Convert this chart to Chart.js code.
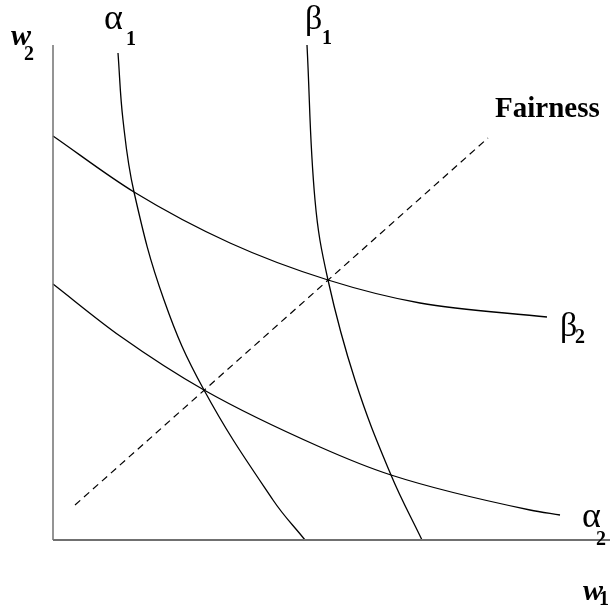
<!DOCTYPE html>
<html>
<head>
<meta charset="utf-8">
<script src="https://cdn.jsdelivr.net/npm/chart.js@4/dist/chart.umd.min.js"></script>
<style>
  html, body { margin: 0; padding: 0; background: #fff; }
  #chart { display: block; }
</style>
</head>
<body>
<canvas id="chart" width="610" height="610"></canvas>
<script>
// indifference curves (w1, w2 units)
const alpha1 = [[65,487],[70,420],[81,348],[111,240],[151,150],[220,40],[252,0]];
const beta1  = [[254,495],[262,340],[275,260],[302,160],[338,65],[369,0]];
const beta2  = [[0,404],[81,348],[177,297],[275,260],[367,237],[494,223]];
const alpha2 = [[0,256],[67,204],[151,150],[267,93],[338,65],[477,30],[507,25]];
const fairness = [[22,35],[435,402]];
const yAxisLine = [[0,0],[0,495]];
const xAxisLine = [[0,0],[557,0]];

// text labels: [main, sub, x, y, subX, subY, font, subFont]
const labels = [
  ['w', '2', 11, 45, 24, 60, 'italic bold 30px "Liberation Serif"', 'bold 20px "Liberation Serif"'],
  ['\u03B1', '1', 104, 29, 126, 45, '36px "Liberation Serif"', 'bold 20px "Liberation Serif"'],
  ['\u03B2', '1', 305, 29, 322, 44, '34px "Liberation Serif"', 'bold 20px "Liberation Serif"'],
  ['Fairness', '', 495, 117, 0, 0, 'bold 29px "Liberation Serif"', ''],
  ['\u03B2', '2', 560, 336, 575, 343, '34px "Liberation Serif"', 'bold 20px "Liberation Serif"'],
  ['\u03B1', '2', 582, 527, 596, 545, '36px "Liberation Serif"', 'bold 20px "Liberation Serif"'],
  ['w', '1', 583, 600, 599, 605, 'italic bold 30px "Liberation Serif"', 'bold 20px "Liberation Serif"']
];

const pts = arr => arr.map(p => ({ x: p[0], y: p[1] }));

// steep curves look best with bezier tension, flat ones with monotone
const curve = (data, smooth) => ({
  data: pts(data),
  borderColor: '#000',
  borderWidth: 1.3,
  pointRadius: 0,
  showLine: true,
  tension: 0.4,
  cubicInterpolationMode: smooth
});

const textPlugin = {
  id: 'textLabels',
  afterDraw(chart) {
    const ctx = chart.ctx;
    ctx.save();
    ctx.fillStyle = '#000';
    ctx.textBaseline = 'alphabetic';
    ctx.textAlign = 'left';
    labels.forEach(l => {
      ctx.font = l[6];
      ctx.fillText(l[0], l[2], l[3]);
      if (l[1]) {
        ctx.font = l[7];
        ctx.fillText(l[1], l[4], l[5]);
      }
    });
    ctx.restore();
  }
};

new Chart(document.getElementById('chart'), {
  type: 'scatter',
  data: {
    datasets: [
      { data: pts(xAxisLine), borderColor: '#707070', borderWidth: 2, pointRadius: 0, showLine: true },
      { data: pts(yAxisLine), borderColor: '#707070', borderWidth: 1.5, pointRadius: 0, showLine: true },
      curve(alpha1, 'default'),
      curve(beta1, 'default'),
      curve(beta2, 'monotone'),
      curve(alpha2, 'monotone'),
      { data: pts(fairness), borderColor: '#000', borderWidth: 1.2, borderDash: [7, 5], pointRadius: 0, showLine: true }
    ]
  },
  options: {
    responsive: false,
    animation: false,
    clip: false,
    layout: { padding: { left: 53, right: 0, top: 0, bottom: 70 } },
    plugins: { legend: { display: false }, tooltip: { enabled: false } },
    scales: {
      x: { type: 'linear', min: 0, max: 557, display: false },
      y: { type: 'linear', min: 0, max: 540, display: false }
    }
  },
  plugins: [textPlugin]
});
</script>
</body>
</html>
